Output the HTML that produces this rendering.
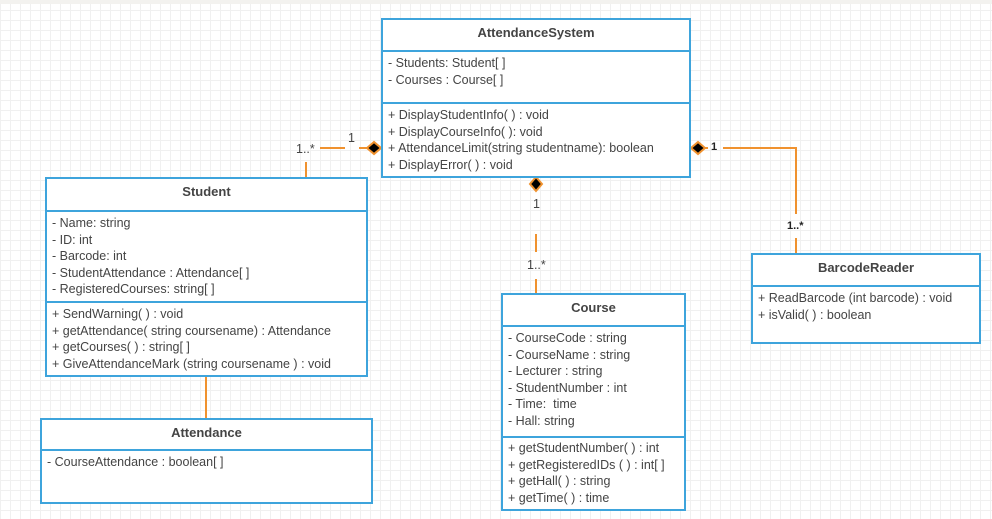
<!DOCTYPE html>
<html><head><style>
body{margin:0;width:992px;height:519px;overflow:hidden;background:#fff;
background-image:linear-gradient(#f0f0f0 1px,transparent 1px),linear-gradient(90deg,#f0f0f0 1px,transparent 1px);background-size:10px 10px;font-family:"Liberation Sans",sans-serif;color:#444}
.top{position:absolute;left:0;top:0;width:992px;height:4px;background:#f3f2ef}
.b{position:absolute;border:2px solid #3ea4dc;background:#fff;box-sizing:border-box;font-size:12.5px}
.h{font-weight:bold;text-align:center;border-bottom:2px solid #3ea4dc;box-sizing:border-box;padding-top:5px;font-size:13px}
.s{border-bottom:2px solid #3ea4dc;box-sizing:border-box;padding:3px 0 0 5px;line-height:16.5px;white-space:nowrap}
.n{padding:3px 0 0 5px;line-height:16.5px;white-space:nowrap}
.l{position:absolute;font-size:12.5px;color:#444}
</style></head><body>
<div class="top"></div>
<svg style="position:absolute;left:0;top:0" width="992" height="519">
<g stroke="#f0922f" stroke-width="2" fill="none">
<line x1="320" y1="148" x2="345" y2="148"/><line x1="359" y1="148" x2="368" y2="148"/>
<line x1="306" y1="162" x2="306" y2="178"/>
<line x1="536" y1="234" x2="536" y2="252"/><line x1="536" y1="279" x2="536" y2="294"/>
<polyline points="723,148 796,148 796,214"/><line x1="796" y1="238" x2="796" y2="254"/>
<line x1="704" y1="148" x2="708" y2="148"/>
<line x1="206" y1="376" x2="206" y2="419"/>
</g>
<g fill="#000" stroke="#f0922f" stroke-width="2">
<polygon points="367,148 374,142 381,148 374,154"/>
<polygon points="691,148 698,142 705,148 698,154"/>
<polygon points="536,177 542,184 536,191 530,184"/>
</g>
</svg>
<div class="l" style="left:296px;top:142px">1..*</div>
<div class="l" style="left:348px;top:131px">1</div>
<div class="l" style="left:711px;top:141px;font-weight:bold;color:#222;font-size:11px">1</div>
<div class="l" style="left:533px;top:197px">1</div>
<div class="l" style="left:527px;top:258px">1..*</div>
<div class="l" style="left:787px;top:220px;font-weight:bold;color:#222;font-size:11px">1..*</div>

<div class="b" style="left:381px;top:18px;width:310px;height:160px">
<div class="h" style="height:32px">AttendanceSystem</div>
<div class="s" style="height:52px">- Students: Student[ ]<br>- Courses : Course[ ]</div>
<div class="n">+ DisplayStudentInfo( ) : void<br>+ DisplayCourseInfo( ): void<br>+ AttendanceLimit(string studentname): boolean<br>+ DisplayError( ) : void</div></div>

<div class="b" style="left:45px;top:177px;width:323px;height:200px">
<div class="h" style="height:33px">Student</div>
<div class="s" style="height:91px">- Name: string<br>- ID: int<br>- Barcode: int<br>- StudentAttendance : Attendance[ ]<br>- RegisteredCourses: string[ ]</div>
<div class="n">+ SendWarning( ) : void<br>+ getAttendance( string coursename) : Attendance<br>+ getCourses( ) : string[ ]<br>+ GiveAttendanceMark (string coursename ) : void</div></div>

<div class="b" style="left:40px;top:418px;width:333px;height:86px">
<div class="h" style="height:31px">Attendance</div>
<div class="n">- CourseAttendance : boolean[ ]</div></div>

<div class="b" style="left:501px;top:293px;width:185px;height:218px">
<div class="h" style="height:32px">Course</div>
<div class="s" style="height:111px">- CourseCode : string<br>- CourseName : string<br>- Lecturer : string<br>- StudentNumber : int<br>- Time:&nbsp; time<br>- Hall: string</div>
<div class="n" style="padding-top:2px">+ getStudentNumber( ) : int<br>+ getRegisteredIDs ( ) : int[ ]<br>+ getHall( ) : string<br>+ getTime( ) : time</div></div>

<div class="b" style="left:751px;top:253px;width:230px;height:91px">
<div class="h" style="height:32px">BarcodeReader</div>
<div class="n">+ ReadBarcode (int barcode) : void<br>+ isValid( ) : boolean</div></div>
</body></html>
